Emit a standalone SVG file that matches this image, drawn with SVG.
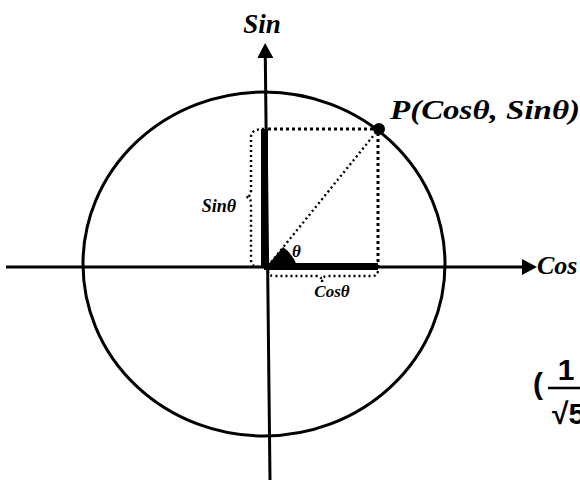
<svg xmlns="http://www.w3.org/2000/svg" width="580" height="481" viewBox="0 0 580 481">
<style>
.ax{stroke:#000;stroke-width:3;fill:none}
.thick{stroke:#000;stroke-width:7;fill:none}
.dot3{stroke:#000;stroke-width:3;stroke-dasharray:3 3;fill:none}
.dot2{stroke:#000;stroke-width:2.4;stroke-dasharray:2 3;fill:none}
.lbl{font-family:"Liberation Serif","Times New Roman",serif;font-style:italic;font-weight:bold;fill:#000}
.frac{font-family:"Liberation Sans","DejaVu Sans",sans-serif;font-weight:bold;fill:#000}
</style>
<defs>
<marker id="ah" markerUnits="userSpaceOnUse" markerWidth="16" markerHeight="16" refX="1" refY="8" orient="auto"><path d="M0,0 L15,8 L0,16 Z" fill="#000"/></marker>
</defs>
<g id="circle"><ellipse class="ax" cx="264" cy="264" rx="181" ry="172"/></g>
<g id="connectors">
<line class="ax" x1="6" y1="267" x2="523" y2="267" marker-end="url(#ah)"/>
<line class="ax" x1="270" y1="480" x2="265.3" y2="57" marker-end="url(#ah)"/>
<path class="dot3" d="M268,129 H378 V266"/>
<path class="dot2" d="M268,266 L378,130"/>
<line class="thick" x1="264.5" y1="129" x2="264.5" y2="267"/>
<line class="thick" x1="264" y1="266.5" x2="378" y2="266.5"/>
<path class="dot2" d="M264,129 Q251,129 251,137 V190 Q251,197 246,197 Q251,197 251,204 V259 Q251,267 259,267"/>
<path class="dot2" d="M268,271 Q268,276 275,276 H316 Q322,276 322,282 Q322,276 328,276 H372 Q378,276 378,270"/>
<path d="M267,266 L283,247 Q293,254 297,266 Z" fill="#000"/>
</g>
<g id="point"><circle cx="379" cy="129" r="6" fill="#000"/></g>
<g id="labels">
<text class="lbl" x="262" y="33" font-size="27" text-anchor="middle">Sin</text>
<text class="lbl" x="390" y="119" font-size="27" textLength="190" lengthAdjust="spacingAndGlyphs">P(Cosθ, Sinθ)</text>
<text class="lbl" x="537" y="274" font-size="26">Cos</text>
<text class="lbl" x="236" y="212" font-size="18" text-anchor="end">Sinθ</text>
<text class="lbl" x="332" y="297" font-size="17" text-anchor="middle">Cosθ</text>
<text class="lbl" x="292" y="257" font-size="17">θ</text>
</g>
<g id="fraction">
<text class="frac" x="533" y="394" font-size="30">(</text>
<text class="frac" x="566" y="380" font-size="30" text-anchor="middle">1</text>
<line x1="548" y1="388" x2="582" y2="388" stroke="#000" stroke-width="2.5"/>
<text class="frac" x="552" y="424" font-size="30">√5</text>
</g>
</svg>
